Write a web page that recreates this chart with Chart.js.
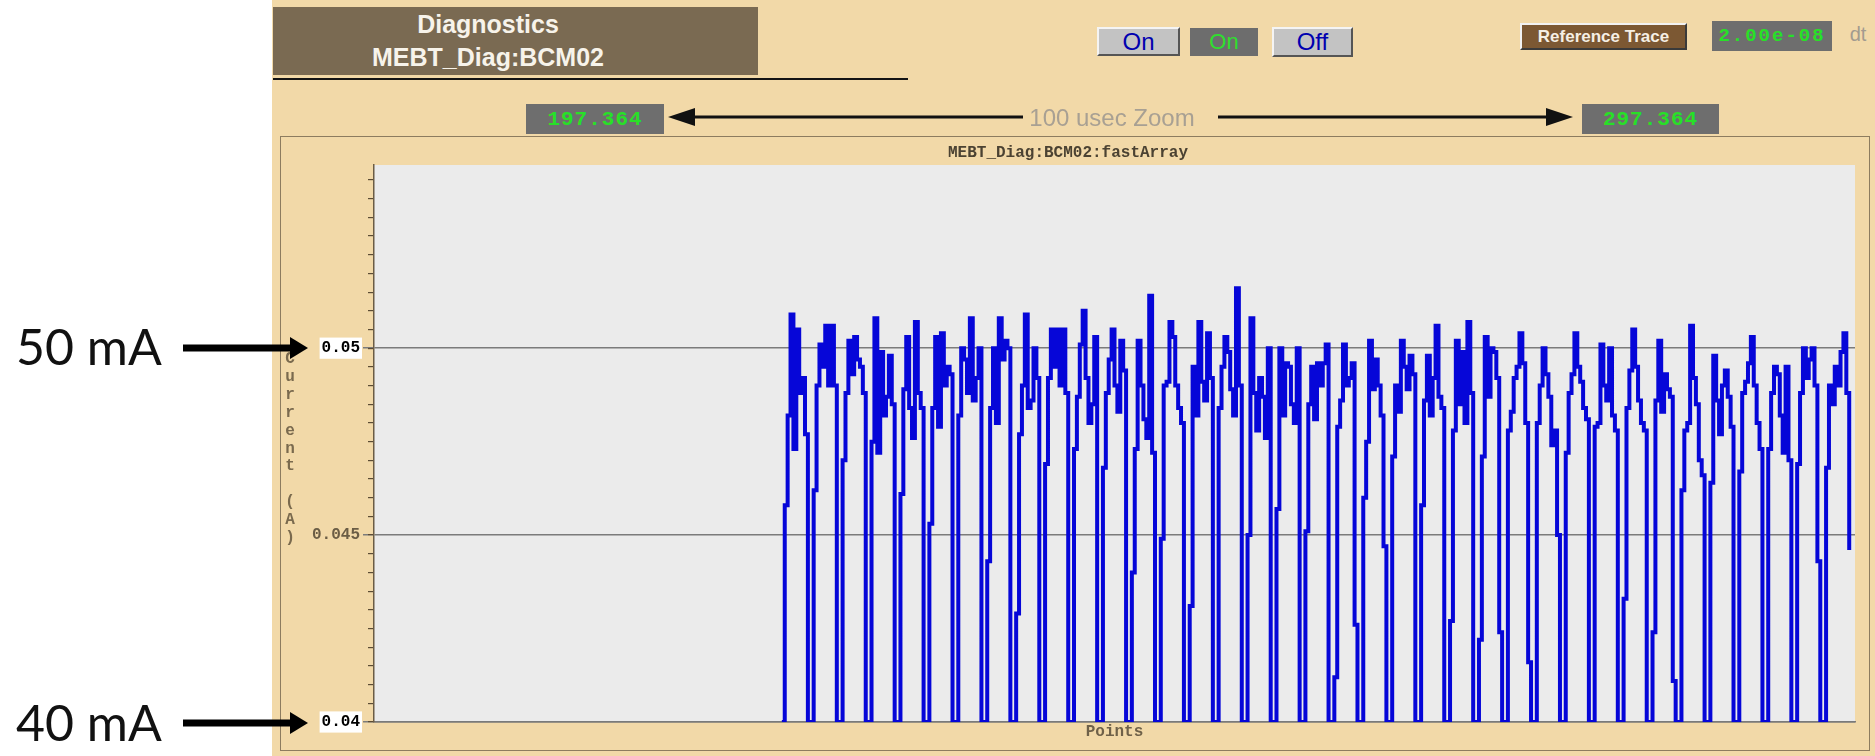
<!DOCTYPE html>
<html>
<head>
<meta charset="utf-8">
<script src="https://cdn.jsdelivr.net/npm/chart.js@4.4.1/dist/chart.umd.min.js"></script>
<style>
body { margin:0; width:1875px; height:756px; background:#fff; position:relative; overflow:hidden; font-family:"Liberation Sans", Arial, sans-serif; }
.abs { position:absolute; box-sizing:border-box; display:flex; align-items:center; justify-content:center; }
#panel { left:272px; top:0; width:1603px; height:756px; background:#f2d9a8; }
#header { left:273px; top:7px; width:485px; height:68px; padding-right:55px; background:#7a6a52; color:#f7f3ea; font-weight:bold; font-size:25px; line-height:33px; text-align:center; flex-direction:column; }
#rule { left:273px; top:78px; width:635px; height:2px; background:#141414; }
.btn { background:#c3c3c3; border:2px solid; border-color:#f4f4f4 #555 #555 #f4f4f4; color:#0000b0; font-size:24px; }
.ind { background:#6d6d6d; color:#2ee02e; font-size:22px; }
.num { background:#6e6e6e; color:#27e027; font:bold 21px "Liberation Mono", monospace; letter-spacing:1px; }
#ref { left:1520px; top:23px; width:167px; height:27px; background:#7c5833; color:#f5efe5; font-weight:bold; font-size:17px; border:2px solid; border-color:#f2f2f2 #3a3a3a #3a3a3a #f2f2f2; }
#dt { left:1712px; top:21px; width:120px; height:30px; background:#6e6e6e; color:#27e027; font:bold 19px "Liberation Mono", monospace; letter-spacing:2px; }
#dtl { left:1843px; top:20px; width:30px; height:28px; color:#a39b8f; font-size:20px; }
#frame { position:absolute; left:280px; top:136px; width:1590px; height:615px; border:1px solid #8d7c5f; box-sizing:border-box; }
#bcm { position:absolute; left:281px; top:137px; }
svg { position:absolute; left:0; top:0; pointer-events:none; }
</style>
</head>
<body>
<div id="panel" class="abs"></div>
<div id="header" class="abs"><div>Diagnostics</div><div>MEBT_Diag:BCM02</div></div>
<div id="rule" class="abs"></div>
<div class="abs btn" style="left:1097px;top:27px;width:83px;height:29px;">On</div>
<div class="abs ind" style="left:1190px;top:28px;width:68px;height:28px;">On</div>
<div class="abs btn" style="left:1272px;top:27px;width:81px;height:30px;">Off</div>
<div id="ref" class="abs">Reference Trace</div>
<div id="dt" class="abs">2.00e-08</div>
<div id="dtl" class="abs">dt</div>
<div class="abs num" style="left:526px;top:104px;width:138px;height:30px;">197.364</div>
<div class="abs num" style="left:1582px;top:104px;width:137px;height:30px;">297.364</div>
<div id="frame"></div>
<canvas id="bcm" width="1588" height="613"></canvas>
<svg width="1875" height="756">
  <text x="290 290 290 290 290 290 290 290 290 290 290" y="363 381 399 417 435 453 470 488 506 524 542"
        text-anchor="middle" font-family="Liberation Mono" font-weight="bold" font-size="16" fill="#7a6a4e">Current (A)</text>
  <line x1="693" y1="117" x2="1023" y2="117" stroke="#111" stroke-width="3"/>
  <polygon points="668,117 695,108 695,126" fill="#111"/>
  <text x="1112" y="126" text-anchor="middle" font-family="Liberation Sans" font-size="24" fill="#a8a093">100 usec Zoom</text>
  <line x1="1218" y1="117" x2="1548" y2="117" stroke="#111" stroke-width="3"/>
  <polygon points="1573,117 1546,108 1546,126" fill="#111"/>
  <line x1="183" y1="348" x2="292" y2="348" stroke="#000" stroke-width="7"/>
  <polygon points="308,348 290,337 290,359" fill="#000"/>
  <text x="16" y="365" font-family="Lato" font-size="50" fill="#111">50 mA</text>
  <line x1="183" y1="723" x2="292" y2="723" stroke="#000" stroke-width="7"/>
  <polygon points="308,723 290,712 290,734" fill="#000"/>
  <text x="16" y="741" font-family="Lato" font-size="50" fill="#111">40 mA</text>
</svg>
<script>
// fast BCM trace, one row per beam pulse: 8 samples on top, then 2 at the floor
const firstPoint = 141;
const current = [
  0.0400,
  0.0458, 0.0482, 0.0509, 0.0473, 0.0505, 0.0488, 0.0492, 0.0477, 0.0400, 0.0400,
  0.0462, 0.0490, 0.0501, 0.0495, 0.0506, 0.0490, 0.0506, 0.0490, 0.0400, 0.0400,
  0.0470, 0.0488, 0.0502, 0.0493, 0.0503, 0.0497, 0.0495, 0.0488, 0.0400, 0.0400,
  0.0475, 0.0508, 0.0472, 0.0499, 0.0482, 0.0487, 0.0498, 0.0485, 0.0400, 0.0400,
  0.0461, 0.0489, 0.0503, 0.0484, 0.0476, 0.0507, 0.0488, 0.0484, 0.0400, 0.0400,
  0.0453, 0.0484, 0.0503, 0.0479, 0.0504, 0.0490, 0.0495, 0.0493, 0.0400, 0.0400,
  0.0482, 0.0500, 0.0497, 0.0488, 0.0508, 0.0486, 0.0492, 0.0500, 0.0400, 0.0400,
  0.0443, 0.0484, 0.0500, 0.0480, 0.0508, 0.0497, 0.0502, 0.0500, 0.0400, 0.0400,
  0.0429, 0.0477, 0.0490, 0.0509, 0.0484, 0.0486, 0.0500, 0.0492, 0.0400, 0.0400,
  0.0469, 0.0492, 0.0505, 0.0495, 0.0505, 0.0490, 0.0505, 0.0488, 0.0400, 0.0400,
  0.0473, 0.0487, 0.0501, 0.0510, 0.0492, 0.0480, 0.0485, 0.0503, 0.0400, 0.0400,
  0.0468, 0.0488, 0.0497, 0.0505, 0.0490, 0.0483, 0.0502, 0.0494, 0.0400, 0.0400,
  0.0440, 0.0473, 0.0502, 0.0490, 0.0481, 0.0476, 0.0514, 0.0472, 0.0400, 0.0400,
  0.0449, 0.0490, 0.0491, 0.0507, 0.0503, 0.0490, 0.0484, 0.0480, 0.0400, 0.0400,
  0.0431, 0.0495, 0.0482, 0.0507, 0.0491, 0.0486, 0.0504, 0.0492, 0.0400, 0.0400,
  0.0484, 0.0495, 0.0503, 0.0499, 0.0489, 0.0482, 0.0516, 0.0490, 0.0400, 0.0400,
  0.0450, 0.0508, 0.0488, 0.0478, 0.0492, 0.0487, 0.0476, 0.0500, 0.0400, 0.0400,
  0.0457, 0.0500, 0.0482, 0.0496, 0.0495, 0.0485, 0.0480, 0.0500, 0.0400, 0.0400,
  0.0451, 0.0485, 0.0495, 0.0481, 0.0496, 0.0490, 0.0496, 0.0501, 0.0400, 0.0400,
  0.0412, 0.0479, 0.0486, 0.0501, 0.0490, 0.0492, 0.0496, 0.0426, 0.0400, 0.0400,
  0.0460, 0.0475, 0.0502, 0.0489, 0.0497, 0.0490, 0.0482, 0.0447, 0.0400, 0.0400,
  0.0471, 0.0490, 0.0483, 0.0502, 0.0495, 0.0489, 0.0498, 0.0493, 0.0400, 0.0400,
  0.0458, 0.0486, 0.0498, 0.0482, 0.0492, 0.0506, 0.0487, 0.0484, 0.0400, 0.0400,
  0.0427, 0.0478, 0.0502, 0.0485, 0.0499, 0.0480, 0.0507, 0.0488, 0.0400, 0.0400,
  0.0422, 0.0471, 0.0503, 0.0487, 0.0500, 0.0499, 0.0492, 0.0424, 0.0400, 0.0400,
  0.0478, 0.0483, 0.0492, 0.0495, 0.0504, 0.0496, 0.0480, 0.0416, 0.0400, 0.0400,
  0.0480, 0.0490, 0.0500, 0.0493, 0.0487, 0.0474, 0.0478, 0.0450, 0.0400, 0.0400,
  0.0472, 0.0488, 0.0493, 0.0504, 0.0495, 0.0491, 0.0484, 0.0481, 0.0400, 0.0400,
  0.0479, 0.0480, 0.0501, 0.0490, 0.0486, 0.0500, 0.0482, 0.0478, 0.0400, 0.0400,
  0.0433, 0.0484, 0.0494, 0.0505, 0.0495, 0.0486, 0.0480, 0.0478, 0.0400, 0.0400,
  0.0424, 0.0486, 0.0502, 0.0483, 0.0493, 0.0489, 0.0487, 0.0411, 0.0400, 0.0400,
  0.0462, 0.0478, 0.0480, 0.0506, 0.0492, 0.0485, 0.0470, 0.0466, 0.0400, 0.0400,
  0.0464, 0.0498, 0.0486, 0.0477, 0.0490, 0.0494, 0.0487, 0.0479, 0.0400, 0.0400,
  0.0467, 0.0488, 0.0491, 0.0496, 0.0503, 0.0490, 0.0480, 0.0473, 0.0400, 0.0400,
  0.0473, 0.0488, 0.0495, 0.0493, 0.0482, 0.0472, 0.0495, 0.0470, 0.0400, 0.0400,
  0.0469, 0.0488, 0.0500, 0.0492, 0.0497, 0.0500, 0.0490, 0.0443, 0.0400, 0.0400,
  0.0468, 0.0490, 0.0485, 0.0495, 0.0490, 0.0499, 0.0504, 0.0488,
  0.0446
];
const traceName = 'MEBT_Diag:BCM02:fastArray';
const xTitle = 'Points';
const yMin = 0.04;
const yMax = 0.0549;
const xMax = 512;
const majorStep = 0.005;
const minorStep = 0.0005;

const trace = current.map((v, i) => ({ x: firstPoint + i, y: v }));

const plotBg = {
    id: 'plotBg',
    beforeDraw(chart) {
        const a = chart.chartArea;
        chart.ctx.save();
        chart.ctx.fillStyle = '#ebebeb';
        chart.ctx.fillRect(a.left, a.top, a.right - a.left, a.bottom - a.top);
        chart.ctx.restore();
    }
};

function isEdge(v) {
    return Math.abs(v - 0.05) < 1e-6 || Math.abs(v - 0.04) < 1e-6;
}

Chart.defaults.font.family = '"Liberation Mono", monospace';

const ctx = document.getElementById('bcm');
const myChart = new Chart(ctx, {
    type: 'line',
    data: {
        datasets: [{
            label: traceName,
            data: trace,
            stepped: true,
            borderColor: '#0606d8',
            borderWidth: 4,
            pointRadius: 0,
            fill: false,
            yAxisID: 'y'
        }]
    },
    options: {
        responsive: false,
        animation: false,
        devicePixelRatio: 1,
        layout: { padding: { left: 0, right: 14, top: 0, bottom: 0 } },
        plugins: {
            legend: { display: false },
            tooltip: { enabled: false },
            title: {
                display: true,
                text: traceName,
                color: '#4b4232',
                font: { size: 16, weight: 'bold' },
                padding: { top: 6.4, bottom: 2.4 }
            }
        },
        scales: {
            x: {
                type: 'linear',
                min: 0,
                max: xMax,
                ticks: { display: false },
                grid: { display: false },
                border: { display: true, color: '#7a7a7a', width: 1.5 },
                title: {
                    display: true,
                    text: xTitle,
                    color: '#6f6149',
                    font: { size: 16, weight: 'bold' },
                    padding: { top: 0, bottom: 8 }
                },
                afterFit(scale) { scale.height = 28; }
            },
            y: {
                position: 'left',
                weight: 1,
                min: yMin,
                max: yMax,
                ticks: {
                    stepSize: majorStep,
                    includeBounds: false,
                    padding: 3,
                    font: { size: 16, weight: 'bold' },
                    color: c => isEdge(c.tick.value) ? '#000' : '#6b5d45',
                    showLabelBackdrop: c => isEdge(c.tick.value),
                    backdropColor: '#ffffff',
                    backdropPadding: { x: 2, y: 1 },
                    callback: v => String(+v.toFixed(4))
                },
                grid: { color: '#7b7b7b', lineWidth: 1.5, tickLength: 11, tickColor: '#7b7b7b' },
                border: { display: true, color: '#6b5c45', width: 1.5 },
                afterFit(scale) { scale.width = 93; }
            },
            yMinor: {
                position: 'left',
                weight: 0,
                min: yMin,
                max: yMax,
                ticks: { stepSize: minorStep, includeBounds: false, display: false },
                grid: { drawOnChartArea: false, tickLength: 6, tickColor: '#5c4c34', lineWidth: 1.2 },
                border: { display: false },
                afterFit(scale) { scale.width = 0; }
            }
        }
    },
    plugins: [plotBg]
});
</script>
</body>
</html>
